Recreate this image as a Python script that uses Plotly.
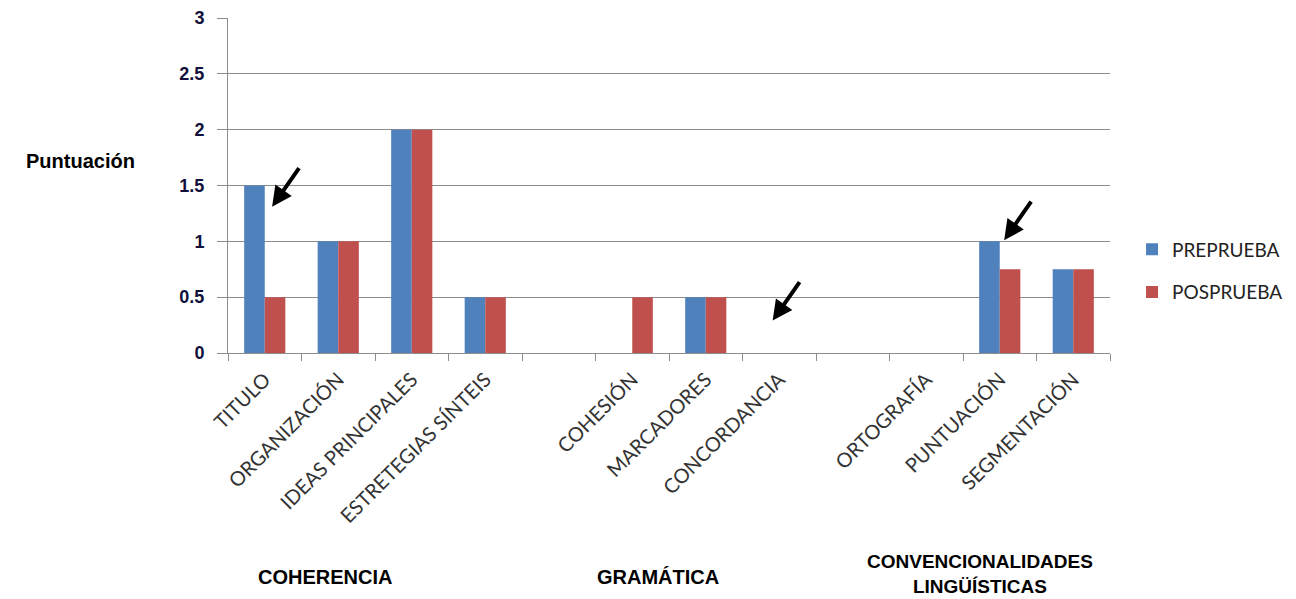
import plotly.graph_objects as go

categories = ["TITULO", "ORGANIZACIÓN", "IDEAS PRINCIPALES", "ESTRETEGIAS SÍNTEIS", " ",
              "COHESIÓN", "MARCADORES", "CONCORDANCIA", "  ",
              "ORTOGRAFÍA", "PUNTUACIÓN", "SEGMENTACIÓN"]
preprueba = [1.5, 1, 2, 0.5, None, 0, 0.5, 0, None, 0, 1, 0.75]
posprueba = [0.5, 1, 2, 0.5, None, 0.5, 0.5, 0, None, 0, 0.75, 0.75]
series_names = ["PREPRUEBA", "POSPRUEBA"]
group_labels = ["COHERENCIA", "GRAMÁTICA", "CONVENCIONALIDADES<br>LINGÜÍSTICAS"]
y_title = "Puntuación"

BLUE = "#4F81BD"
RED = "#C0504D"
GRID = "#8C8C8C"

fig = go.Figure()
fig.add_trace(go.Bar(x=categories, y=preprueba, name=series_names[0], marker_color=BLUE,
                     marker_line_width=0, legendgroup="a"))
fig.add_trace(go.Bar(x=categories, y=posprueba, name=series_names[1], marker_color=RED,
                     marker_line_width=0, legendgroup="b"))

fig.update_layout(
    width=1296, height=599,
    margin=dict(l=228, r=186, t=18, b=246, autoexpand=False),
    paper_bgcolor="white", plot_bgcolor="white",
    barmode="group", bargap=0.44, bargroupgap=0,
    showlegend=True,
    legend=dict(x=1.025, xanchor="left", y=0.366, yanchor="top",
                font=dict(family="Lato", size=19, color="#222222"),
                traceorder="grouped", tracegroupgap=15),
    xaxis=dict(type="category", categoryorder="array", categoryarray=categories,
               showgrid=False, showline=True, linecolor=GRID, linewidth=1,
               ticks="outside", tickson="boundaries", ticklen=7, tickcolor=GRID,
               ticklabelstandoff=6, automargin=False,
               tickangle=-45, tickfont=dict(family="Lato", size=20, color="#333333")),
    yaxis=dict(range=[0, 3], dtick=0.5, showgrid=True, gridcolor=GRID, gridwidth=1,
               showline=True, linecolor=GRID, linewidth=1, zeroline=False,
               ticks="outside", ticklen=10, tickcolor=GRID, ticklabelstandoff=9,
               automargin=False,
               tickfont=dict(family="Arial", size=18, color="#10103a", weight="bold")),
)

# axis title
fig.add_annotation(text=f"<b>{y_title}</b>", xref="paper", yref="paper",
                   x=(80 - 228) / 882, y=(353 - 161) / 335, showarrow=False,
                   xanchor="center", yanchor="middle",
                   font=dict(family="Arial", size=20, color="black"))

# group labels
group_x = [325, 658, 980]
group_y = [577, 577, 574]
group_size = [20, 20, 19]
for lab, gx, gy, gs in zip(group_labels, group_x, group_y, group_size):
    fig.add_annotation(text=f"<b>{lab}</b>", xref="paper", yref="paper",
                       x=(gx - 228) / 882, y=(353 - gy) / 335, showarrow=False,
                       xanchor="center", yanchor="middle",
                       font=dict(family="Arial", size=gs, color="black"))

# arrows (tip in data coords, tail offset in pixels)
arrows = [(0.1, 1.31), (6.91, 0.29), (10.06, 1.01)]
for ax_, ay_ in arrows:
    fig.add_annotation(x=ax_, y=ay_, xref="x", yref="y", text="", showarrow=True,
                       arrowhead=2, arrowsize=1, arrowwidth=4, arrowcolor="black",
                       ax=28, ay=-40)

fig.write_html("out.html")
